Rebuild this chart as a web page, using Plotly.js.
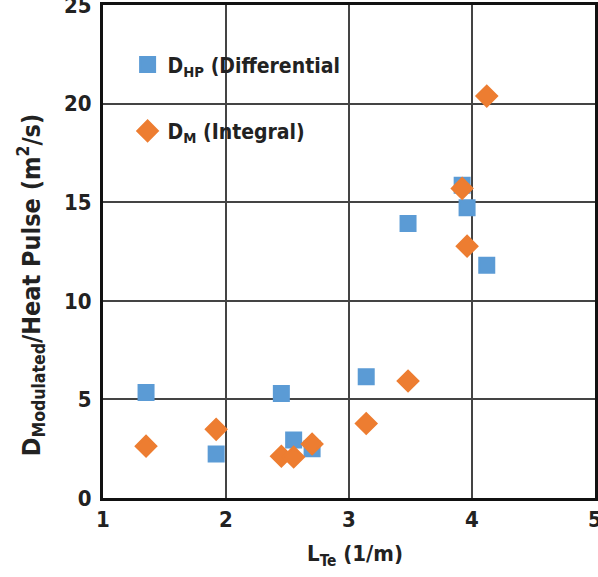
<!DOCTYPE html>
<html>
<head>
<meta charset="utf-8">
<script src="https://cdn.plot.ly/plotly-3.0.1.min.js"></script>
<style>html,body{margin:0;padding:0;background:#fff}#chart{width:598px;height:577px}</style>
</head>
<body>
<div id="chart"></div>
<script>
const hpX = [1.35, 1.92, 2.45, 2.55, 2.70, 3.14, 3.48, 3.92, 3.96, 4.12];
const hpY = [5.35, 2.23, 5.30, 2.94, 2.50, 6.15, 13.92, 15.86, 14.72, 11.80];
const mX = [1.35, 1.92, 2.45, 2.55, 2.70, 3.14, 3.48, 3.92, 3.96, 4.12];
const mY = [2.63, 3.48, 2.12, 2.08, 2.74, 3.78, 5.93, 15.70, 12.77, 20.38];
const xTicks = [1, 2, 3, 4, 5];
const yTicks = [0, 5, 10, 15, 20, 25];
const hpName = 'D<sub>HP</sub> (Differential';
const mName = 'D<sub>M</sub> (Integral)';
const xTitle = 'L<sub>Te</sub> (1/m)';
const yTitle = 'D<sub>Modulated</sub>/Heat Pulse (m<sup>2</sup>/s)';

const fam = '"DejaVu Sans Condensed", "Liberation Sans Narrow", "Arial Narrow", sans-serif';

const traces = [
  {x: hpX, y: hpY, name: hpName, type: 'scatter', mode: 'markers', legendgroup: 'a',
   marker: {symbol: 'square', size: 15, color: '#5B9BD5', line: {color: '#5B9BD5', width: 2}}},
  {x: mX, y: mY, name: mName, type: 'scatter', mode: 'markers', legendgroup: 'b',
   marker: {symbol: 'diamond', size: 16, color: '#ED7D31', line: {color: '#ED7D31', width: 2}}}
];

const axisCommon = {
  showline: true, linecolor: '#111', linewidth: 3, mirror: true,
  showgrid: true, gridcolor: '#444', gridwidth: 2,
  zeroline: false, ticks: '', ticklabeloverflow: 'allow',
  tickfont: {family: fam, size: 22, color: '#222', weight: 'bold'}
};

const layout = {
  width: 598, height: 577,
  margin: {l: 103, r: 3, t: 5, b: 79},
  paper_bgcolor: '#fff', plot_bgcolor: '#fff',
  showlegend: true,
  legend: {x: 0.05, y: 0.92, xanchor: 'left', yanchor: 'top', bgcolor: 'rgba(0,0,0,0)',
    traceorder: 'grouped', tracegroupgap: 36,
    font: {family: fam, size: 21, color: '#222', weight: 'bold'}},
  xaxis: Object.assign({}, axisCommon, {
    range: [1, 5], tickvals: xTicks, ticktext: xTicks.map(String)
  }),
  yaxis: Object.assign({}, axisCommon, {
    range: [0, 25], tickvals: yTicks, ticktext: yTicks.map(String), ticklabelstandoff: 4
  }),
  annotations: [
    {text: xTitle, xref: 'paper', yref: 'paper', x: 0.513, y: -0.116, xanchor: 'center', yanchor: 'middle',
     showarrow: false, font: {family: fam, size: 22, color: '#222', weight: 'bold'}},
    {text: yTitle, xref: 'paper', yref: 'paper', x: -0.146, y: 0.432, xanchor: 'center', yanchor: 'middle',
     textangle: -90, showarrow: false, font: {family: fam, size: 25, color: '#222', weight: 'bold'}}
  ]
};

Plotly.newPlot('chart', traces, layout, {displayModeBar: false, staticPlot: true});
</script>
</body>
</html>
